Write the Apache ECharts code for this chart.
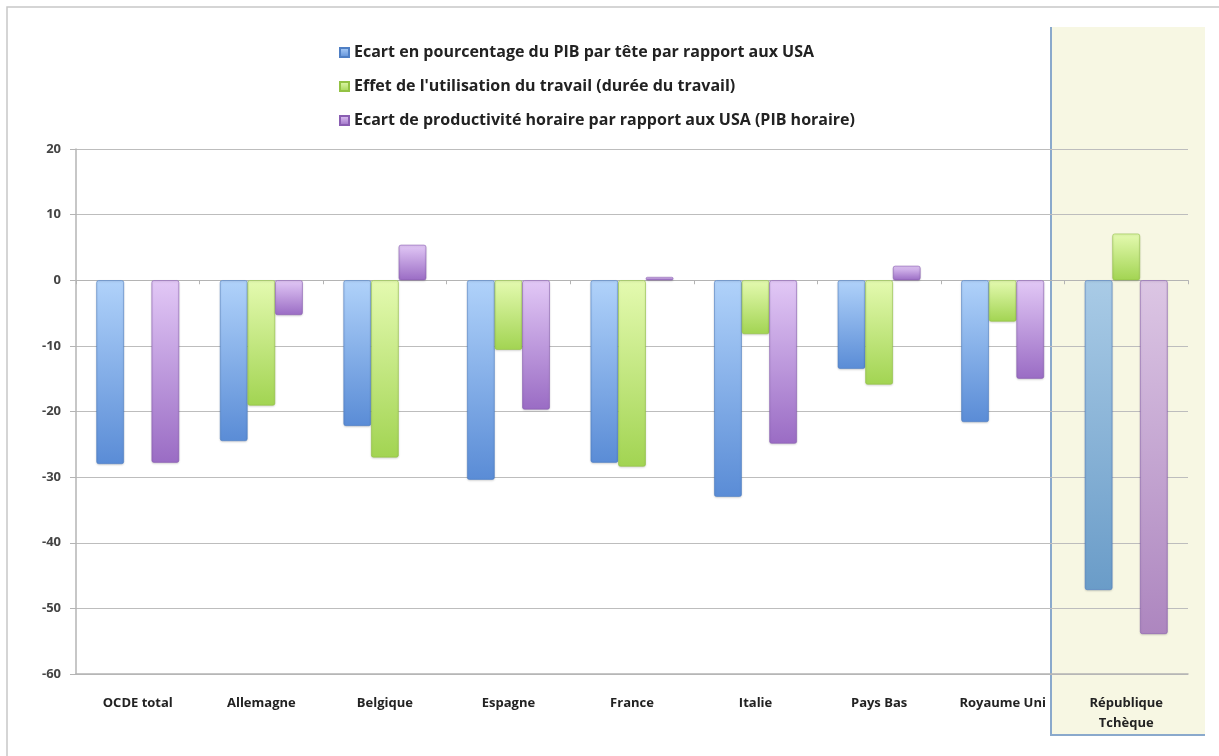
<!DOCTYPE html>
<html>
<head>
<meta charset="utf-8">
<title>Ecart de PIB par tête</title>
<script src="https://cdn.jsdelivr.net/npm/echarts@6/dist/echarts.min.js"></script>
<style>
  html, body { margin: 0; padding: 0; background: #fff; }
  #chart { width: 1219px; height: 756px; }
</style>
</head>
<body>
<div id="chart"></div>
<script>
// données
const categories = ['OCDE total', 'Allemagne', 'Belgique', 'Espagne', 'France', 'Italie', 'Pays Bas', 'Royaume Uni', 'République\nTchèque']
const ecartPib = [-28, -24.5, -22.2, -30.4, -27.8, -33, -13.5, -21.6, -47.2]
const effetTravail = [null, -19.1, -27, -10.6, -28.4, -8.2, -15.9, -6.3, 7.1]
const ecartProductivite = [-27.8, -5.3, 5.4, -19.7, 0.5, -24.9, 2.2, -15, -53.9]
const yTicks = [-60, -50, -40, -30, -20, -10, 0, 10, 20]

const seriesNames = [
  'Ecart en pourcentage du PIB par tête par rapport aux USA',
  "Effet de l'utilisation du travail (durée du travail)",
  'Ecart de productivité horaire par rapport aux USA (PIB horaire)'
]

function grad (top, bottom) {
  return new echarts.graphic.LinearGradient(0, 0, 0, 1, [
    { offset: 0, color: top },
    { offset: 1, color: bottom }
  ])
}

const palette = [
  { top: '#b0d2fa', bottom: '#5a8cd6', border: '#4f7fc4', czTop: '#a9cbe6', czBottom: '#6a9cc8' },
  { top: '#e4fab0', bottom: '#a2d452', border: '#93c244', czTop: '#e4fab0', czBottom: '#a2d452' },
  { top: '#e2c8f6', bottom: '#9a6cc4', border: '#8a5eb2', czTop: '#dcc6e4', czBottom: '#ad86bf' }
]

const chart = echarts.init(document.getElementById('chart'))

const series = [ecartPib, effetTravail, ecartProductivite].map((values, i) => {
  const p = palette[i]
  return {
    name: seriesNames[i],
    type: 'bar',
    barGap: '0%',
    barCategoryGap: '33%',
    itemStyle: {
      color: grad(p.top, p.bottom),
      borderColor: p.border,
      borderWidth: 0.6,
      borderRadius: 2,
      shadowColor: 'rgba(0,0,0,0.15)',
      shadowBlur: 2,
      shadowOffsetY: 1
    },
    data: values.map((v, j) => {
      // la République tchèque est un peu plus pâle (zone surlignée)
      if (j === values.length - 1 && v !== null) {
        return { value: v, itemStyle: { color: grad(p.czTop, p.czBottom) } }
      }
      return v
    })
  }
})

chart.setOption({
  animation: false,
  backgroundColor: '#fff',
  textStyle: { fontFamily: 'Open Sans' },
  graphic: [
    {
      type: 'rect',
      z: -10,
      silent: true,
      shape: { x: 7, y: 7, width: 1230, height: 760 },
      style: { fill: '#fff', stroke: '#c8c8c8', lineWidth: 1.5 }
    },
    {
      type: 'rect',
      z: -5,
      silent: true,
      shape: { x: 1050, y: 27, width: 155, height: 708 },
      style: { fill: '#f7f7e3', stroke: null }
    },
    {
      type: 'polyline',
      z: -4,
      silent: true,
      shape: { points: [[1051, 27], [1051, 735], [1205, 735]] },
      style: { stroke: '#8aa9cc', lineWidth: 2, fill: null }
    }
  ],
  legend: {
    data: seriesNames,
    orient: 'vertical',
    left: 334,
    top: 39,
    itemGap: 17,
    itemWidth: 9,
    itemHeight: 9,
    icon: 'rect',
    textStyle: {
      fontFamily: 'Open Sans',
      fontWeight: 'bold',
      fontSize: 16,
      lineHeight: 17,
      color: '#222',
      padding: [0, 0, 0, 0]
    }
  },
  grid: {
    left: 76,
    right: 31,
    top: 149,
    bottom: 82
  },
  xAxis: [
    {
      type: 'category',
      data: categories,
      position: 'bottom',
      axisLine: { onZero: false, lineStyle: { color: '#b4b4b4', width: 1.5 } },
      axisTick: { show: false },
      axisLabel: {
        color: '#222',
        fontWeight: 'bold',
        fontSize: 13,
        fontFamily: 'Open Sans',
        margin: 19,
        lineHeight: 20,
        interval: 0
      }
    },
    {
      type: 'category',
      data: categories,
      position: 'bottom',
      axisLine: { onZero: true, onZeroAxisIndex: 0, lineStyle: { color: '#b4b4b4' } },
      axisTick: { show: true, length: 4, lineStyle: { color: '#b4b4b4' } },
      axisLabel: { show: false }
    }
  ],
  yAxis: {
    type: 'value',
    min: yTicks[0],
    max: yTicks[yTicks.length - 1],
    interval: 10,
    axisLine: { show: true, lineStyle: { color: '#b4b4b4', width: 1.5 } },
    axisTick: { show: true, length: 6, lineStyle: { color: '#b4b4b4' } },
    splitLine: { show: true, lineStyle: { color: '#bdbdbd', width: 1.2 } },
    axisLabel: {
      color: '#444',
      fontWeight: 'bold',
      fontSize: 13,
      fontFamily: 'Open Sans',
      margin: 15
    }
  },
  series
})
</script>
</body>
</html>
